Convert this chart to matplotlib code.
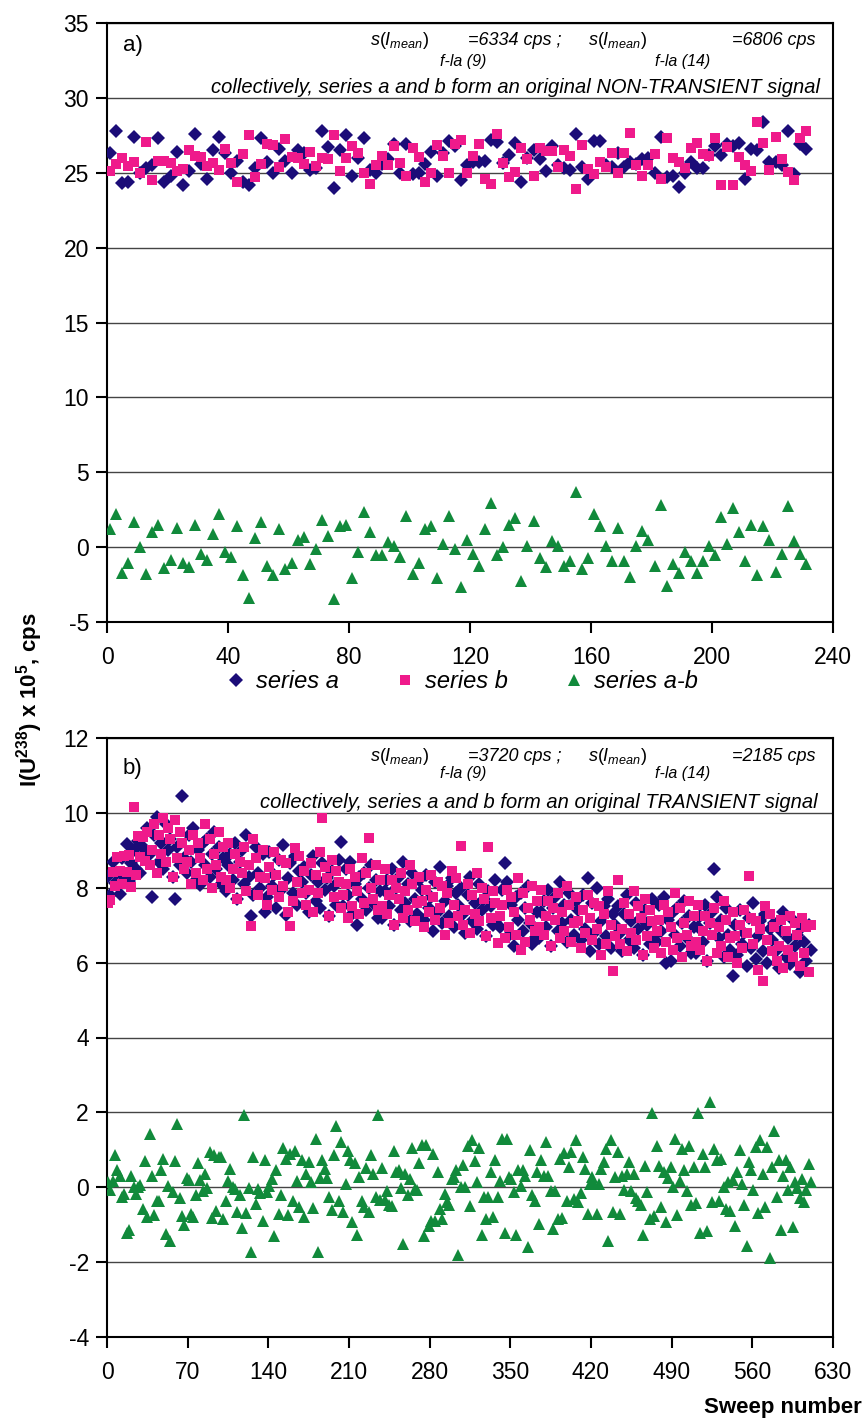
import numpy as np
import matplotlib
matplotlib.use("Agg")
import matplotlib.pyplot as plt
from matplotlib.lines import Line2D

plt.rcParams['font.family'] = ['Liberation Sans', 'DejaVu Sans']
plt.rcParams['mathtext.fontset'] = 'custom'
plt.rcParams['mathtext.rm'] = 'Liberation Sans'
plt.rcParams['mathtext.it'] = 'Liberation Sans:italic'
plt.rcParams['mathtext.bf'] = 'Liberation Sans:bold'
plt.rcParams['axes.unicode_minus'] = False

NAVY = '#1b0c78'
PINK = '#ef1a8b'
GREEN = '#118a3b'

# ---- panel a: non-transient signal (values x 10^5 cps) ----
sweep_a = np.arange(1, 232, 2)
a_series_a = [
    26.3, 27.8, 24.3, 24.4, 27.4, 25.0, 25.3, 25.5, 27.3, 24.4,
    24.8, 26.4, 24.15, 25.15, 27.6, 25.6, 24.6, 26.5, 27.4, 26.3,
    25.0, 25.8, 24.4, 24.15, 25.3, 27.3, 25.7, 25.0, 26.6, 25.8,
    25.0, 26.5, 26.3, 25.2, 25.3, 27.8, 26.7, 24.0, 26.5, 27.5,
    24.75, 26.0, 27.3, 25.2, 25.0, 25.6, 25.9, 26.9, 25.0, 26.9,
    24.9, 25.0, 25.6, 26.4, 24.8, 26.3, 27.1, 26.8, 24.5, 25.5,
    25.7, 25.7, 25.8, 27.2, 27.05, 25.65, 26.2, 27.0, 24.4, 26.0,
    26.5, 25.9, 25.1, 26.8, 25.5, 25.3, 25.2, 27.6, 25.4, 24.55,
    27.1, 27.1, 25.5, 25.4, 26.3, 25.4, 25.7, 25.6, 25.9, 26.0,
    25.0, 27.4, 24.7, 24.8, 24.05, 25.0, 25.7, 25.3, 25.3, 26.2,
    26.8, 26.2, 26.9, 26.8, 27.0, 24.6, 26.6, 26.5, 28.4, 25.7,
    25.7, 25.5, 27.8, 24.9, 26.9, 26.6]
a_series_b = [
    25.1, 25.6, 26.0, 25.47, 25.7, 25.0, 27.07, 24.5, 25.8, 25.8,
    25.65, 25.12, 25.22, 26.51, 26.12, 26.07, 25.45, 25.63, 25.2, 26.61,
    25.63, 24.41, 26.28, 27.55, 24.72, 25.6, 26.95, 26.86, 25.4, 27.28,
    26.07, 26.01, 25.61, 26.36, 25.43, 25.99, 25.94, 27.49, 25.11, 26.0,
    26.81, 26.31, 24.97, 24.22, 25.54, 26.14, 25.54, 26.81, 25.65, 24.8,
    26.67, 26.07, 24.4, 25.01, 26.86, 26.12, 25.0, 26.93, 27.16, 25.01,
    26.13, 26.95, 24.6, 24.27, 27.59, 25.65, 24.7, 25.08, 26.68, 25.91,
    24.78, 26.62, 26.44, 26.42, 25.41, 26.55, 26.14, 23.93, 26.88, 25.27,
    24.9, 25.71, 25.41, 26.34, 25.0, 26.34, 27.67, 25.51, 24.8, 25.51,
    26.25, 24.58, 27.3, 25.96, 25.75, 25.31, 26.64, 27.0, 26.24, 26.11,
    27.34, 24.2, 26.72, 24.18, 26.02, 25.54, 25.1, 28.36, 27.01, 25.21,
    27.36, 25.93, 25.07, 24.52, 27.33, 27.76]
a_diff = [
    1.2, 2.2, -1.7, -1.07, 1.7, 0.0, -1.77, 1.0, 1.5, -1.4,
    -0.85, 1.28, -1.07, -1.36, 1.48, -0.47, -0.85, 0.87, 2.2, -0.31,
    -0.63, 1.39, -1.88, -3.4, 0.58, 1.7, -1.25, -1.86, 1.2, -1.48,
    -1.07, 0.49, 0.69, -1.16, -0.13, 1.81, 0.76, -3.49, 1.39, 1.5,
    -2.06, -0.31, 2.33, 0.98, -0.54, -0.54, 0.36, 0.09, -0.65, 2.1,
    -1.77, -1.07, 1.2, 1.39, -2.06, 0.18, 2.1, -0.13, -2.66, 0.49,
    -0.43, -1.25, 1.2, 2.93, -0.54, 0.0, 1.5, 1.92, -2.28, 0.09,
    1.72, -0.72, -1.34, 0.38, 0.09, -1.25, -0.94, 3.67, -1.48, -0.72,
    2.2, 1.39, 0.09, -0.94, 1.3, -0.94, -1.97, 0.09, 1.1, 0.49,
    -1.25, 2.82, -2.6, -1.16, -1.7, -0.31, -0.94, -1.7, -0.94, 0.09,
    -0.54, 2.0, 0.18, 2.62, 0.98, -0.94, 1.5, -1.86, 1.39, 0.49,
    -1.66, -0.43, 2.73, 0.38, -0.43, -1.16]

# ---- panel b: transient signal ----
sweep_b = np.arange(1, 612, 2)
b_series_a = [
    8.31, 7.81, 8.70, 8.13, 8.39, 7.82, 8.79, 8.28, 9.18, 8.18, 8.66, 9.0, 8.49, 9.25, 8.39, 9.08, 8.93,
    9.6, 8.9, 7.76, 9.4, 9.9, 8.7, 9.2, 8.5, 9.7, 9.0, 9.3, 8.3, 7.69, 9.1, 8.6, 10.45, 8.8,
    8.4, 9.4, 8.7, 9.6, 8.2, 9.0, 8.07, 9.2, 8.6, 9.3, 8.3, 8.9, 9.5, 8.5, 9.1, 8.1, 8.8,
    7.9, 8.6, 8.9, 8.2, 9.2, 7.7, 8.7, 9.0, 8.1, 9.4, 8.3, 7.25, 7.8, 9.1, 8.4, 8.0, 8.9,
    7.36, 7.75, 8.95, 8.05, 8.35, 7.45, 8.75, 7.95, 9.15, 7.28, 8.25, 8.65, 7.85, 8.85, 7.55, 8.45, 8.15,
    8.55, 7.85, 7.35, 8.35, 8.85, 7.65, 8.15, 7.45, 8.65, 7.95, 8.25, 7.25, 8.45, 8.05, 7.55, 8.75, 9.23,
    7.5, 8.5, 7.8, 8.7, 7.3, 8.1, 7.0, 8.3, 7.7, 8.4, 7.4, 8.0, 8.6, 7.6, 8.2, 7.2, 7.9,
    7.2, 7.9, 8.2, 7.5, 8.5, 7.0, 8.0, 8.3, 7.4, 8.7, 7.6, 8.1, 7.1, 8.4, 7.7, 7.3, 8.2,
    7.95, 7.15, 8.35, 7.45, 7.75, 6.85, 8.15, 7.35, 8.55, 7.05, 7.65, 8.05, 7.25, 8.25, 6.95, 7.85, 7.55,
    8.0, 7.3, 6.8, 7.8, 8.3, 7.1, 7.6, 6.9, 8.1, 7.4, 7.7, 6.7, 7.9, 7.5, 7.0, 8.2, 7.2,
    6.95, 7.95, 8.65, 8.15, 6.75, 7.55, 6.45, 7.75, 7.15, 7.85, 6.85, 7.45, 8.05, 7.05, 6.5, 6.65, 7.35,
    6.65, 7.35, 7.65, 6.95, 7.95, 6.45, 7.45, 7.75, 6.85, 8.15, 7.05, 7.55, 6.55, 7.85, 7.15, 6.75, 7.65,
    7.4, 6.6, 7.8, 6.9, 8.25, 6.3, 7.6, 6.8, 8.0, 6.5, 7.1, 7.5, 6.7, 7.7, 6.4, 7.3, 7.0,
    7.5, 6.8, 6.3, 7.3, 7.8, 6.6, 7.1, 6.4, 7.6, 6.9, 7.2, 6.2, 7.4, 7.0, 6.5, 7.7, 6.7,
    6.55, 7.55, 6.85, 7.75, 6.0, 7.15, 6.05, 7.35, 6.75, 7.45, 6.45, 7.05, 7.65, 6.65, 7.25, 6.25, 6.95,
    6.25, 6.95, 7.25, 6.55, 7.55, 6.05, 7.05, 7.35, 8.49, 7.75, 6.65, 7.15, 6.15, 7.45, 6.75, 6.35, 5.63,
    7.0, 6.2, 7.4, 6.5, 6.8, 5.9, 7.2, 6.4, 7.6, 6.1, 6.7, 7.1, 6.3, 7.3, 6.0, 6.9, 6.6,
    7.05, 6.35, 5.85, 6.85, 7.35, 6.15, 6.65, 5.95, 7.15, 6.45, 6.75, 5.75, 6.95, 6.55, 6.05, 7.0, 6.35]
b_series_b = [
    7.58, 7.67, 8.42, 8.06, 8.81, 8.45, 8.09, 8.84, 8.41, 8.88, 8.03, 10.15, 8.35, 9.39, 8.81, 9.36, 8.72,
    9.5, 8.6, 9.0, 9.7, 8.4, 9.4, 8.9, 9.85, 8.7, 9.6, 9.3, 8.3, 9.8, 8.8, 9.5, 9.2, 8.5,
    8.7, 9.0, 8.1, 9.4, 8.4, 9.2, 8.8, 8.2, 9.7, 8.5, 9.3, 8.0, 8.9, 8.6, 9.5, 8.3, 9.1,
    8.2, 9.2, 8.0, 8.5, 8.9, 7.7, 8.7, 8.4, 9.1, 7.9, 8.6, 6.97, 9.3, 8.8, 7.8, 8.3, 9.0,
    8.25, 7.55, 8.55, 7.95, 8.95, 8.35, 7.75, 8.75, 8.05, 8.65, 7.35, 6.97, 7.65, 9.05, 8.15, 8.85, 7.85,
    8.45, 7.55, 7.95, 8.65, 7.35, 8.35, 7.85, 8.95, 9.86, 8.55, 8.25, 7.25, 8.75, 7.75, 8.45, 8.15, 7.45,
    7.8, 8.1, 7.2, 8.5, 7.5, 8.3, 7.9, 7.3, 8.8, 7.6, 8.4, 9.32, 8.0, 7.7, 8.6, 7.4, 8.2,
    7.5, 8.5, 7.3, 7.8, 8.2, 7.0, 8.0, 7.7, 8.4, 7.2, 7.9, 7.4, 8.6, 8.1, 7.1, 7.6, 8.3,
    7.65, 6.95, 7.95, 7.35, 8.35, 7.75, 7.15, 8.15, 7.45, 8.05, 6.75, 7.85, 7.05, 8.45, 7.55, 8.25, 7.25,
    9.12, 7.0, 7.4, 8.1, 6.8, 7.8, 7.3, 8.4, 7.1, 8.0, 7.7, 6.7, 9.08, 7.2, 7.9, 7.6, 6.52,
    7.25, 7.55, 6.65, 7.95, 6.95, 7.75, 7.35, 6.75, 8.25, 6.35, 7.85, 6.55, 7.45, 7.15, 8.05, 6.85, 7.65,
    6.95, 7.95, 6.75, 7.25, 7.65, 6.45, 7.45, 7.15, 7.85, 6.65, 7.35, 6.85, 8.05, 7.55, 6.55, 7.05, 7.75,
    7.1, 6.4, 7.4, 6.8, 7.8, 7.2, 6.6, 7.6, 6.9, 7.5, 6.2, 7.3, 6.5, 7.9, 7.0, 5.77, 6.7,
    8.2, 6.5, 6.9, 7.6, 6.3, 7.3, 6.8, 7.9, 6.6, 7.5, 7.2, 6.2, 7.7, 6.7, 7.4, 7.1, 6.4,
    6.85, 7.15, 6.25, 7.55, 6.55, 7.35, 6.95, 6.35, 7.85, 6.65, 7.45, 6.15, 7.05, 6.75, 7.65, 6.45, 7.25,
    6.55, 7.55, 6.35, 6.85, 7.25, 6.05, 7.05, 6.75, 7.45, 6.25, 6.95, 6.45, 7.65, 7.15, 6.15, 6.65, 7.35,
    6.7, 6.0, 7.0, 6.4, 7.4, 6.8, 8.31, 7.2, 6.5, 7.1, 5.8, 6.9, 5.5, 7.5, 6.6, 7.3, 6.3,
    6.95, 6.05, 6.45, 7.15, 5.85, 6.85, 6.35, 7.25, 6.15, 7.05, 6.75, 5.9, 7.2, 6.25, 6.95, 5.74, 7.0]
b_diff = [
    0.15, -0.07, 0.18, 0.85, 0.45, 0.31, -0.25, -0.18, -1.23, -1.15, 0.3,
    0.02, -0.18, 0.02, 0.07, -0.58, 0.69, -0.8, 1.43, 0.29, -0.74,
    -0.38, -0.38, 0.47, 0.76, -1.25, 0.04, -1.43, -0.13, 0.69, 1.7, -0.3,
    -0.78, -1.0, 0.25, 0.2, -0.72, -0.79, -0.22, 0.64, 0.2, -0.11, 0.35,
    -0.02, 0.94, -0.82, 0.87, -0.64, 0.82, 0.8, -0.85, -0.38, 0.18, 0.5,
    0.02, -0.05, -0.65, -0.21, -1.09, 1.92, -0.7, -0.03, -1.72, 0.8, -0.45,
    -0.04, -0.16, -0.89, 0.73, -0.13, 0.04, 0.21, -1.3, 0.45, -0.72, -0.2,
    1.06, 0.76, -0.74, 0.9, -0.36, 0.97, 0.16, -0.54, 0.73, -0.79, 0.35,
    0.67, 0.13, -0.56, 1.3, -1.72, 0.25, 0.72, 0.49, 0.25, -0.25, -0.6,
    0.85, 1.63, -0.38, 1.21, -0.67, 0.1,
    0.97, 0.73, -0.94, 0.64, -1.27, 0.27, -0.36, -0.54, 0.52, -0.67,
    0.85, 0.36, -0.27, 1.92, -0.34, 0.52, -0.34, -0.09, -0.47, -0.5,
    0.97, 0.4, 0.45, -0.02, -1.52, 0.36, -0.21, 0.22, 1.05, -0.04,
    -0.07, 0.65, 1.14, -1.3, 1.14, -1.03, -0.89, 0.89, -0.89, 0.4,
    -0.58, -0.85, -0.18, -0.4, -0.47, 0.21, 0.27, 0.47, -1.81, 0.02, 0.6,
    0.02, 1.09, -0.49, 1.25, 0.69, 0.13, 1.06, -1.27, -0.27, -0.85,
    -0.27, 0.4, -0.79, 0.72, -0.27, 0.18, 1.3, -1.23, 1.3, 0.27,
    0.21, -0.13, -1.27, 0.47, 0.04, 0.45, 0.31, -1.59, 1.0, -0.22,
    -0.36, 0.4, -0.98, 0.72, 0.31, 1.21, 0.31, -0.11, -1.12, -0.11,
    -0.85, 0.76, -0.82, 0.91, -0.36, 0.54, 0.94, -0.31, 1.27, -0.4, -0.15,
    0.8, 0.49, -0.72,
    0.09, 0.27, 0.09, -0.72, 0.09, 0.49, 0.67, 1.03, -1.43, 1.25,
    -0.67, 0.27, 0.94, -0.72, 0.31, -0.07, 0.36, 0.67, -0.09, 0.36, -0.3,
    -0.38, -0.47, -1.27, 0.56, -0.13, -0.85, 1.97, -0.76, 1.09, 0.56,
    -0.54, 0.4, -0.94, 0.25, 0.55, 0.02, 1.3, -0.73, 0.18, 1.03, 0.45,
    -0.09, 1.09, -0.47, 0.54, -0.43, 1.97, -1.23, 0.89, 0.54, -1.18,
    2.28, -0.4, 1.03, 0.73, -0.38, 0.76, 0.02, -0.58, 0.13, -0.63, 0.2,
    -1.03, 0.4, 1.0, 0.09, -0.47, -1.57, 0.67, 0.45, -0.07, 1.07,
    -0.7, 1.25, 0.36, -0.54, 1.07, -1.9, 0.54, 1.5, -0.27, 0.73,
    -1.14, 0.31, 0.72, -0.07, 0.55, -1.07, 0.13, -0.02, -0.29, 0.22, -0.4,
    -0.07, 0.61, 0.13]

W, H = 864, 1420


def fx(px):
    return px / W


def fy(py):
    return 1 - py / H


MS_D, MS_S, MS_T = 6.8, 7.0, 8.6

fig = plt.figure(figsize=(W / 100, H / 100), dpi=100)
ax_a = fig.add_axes([fx(107), fy(622), fx(833) - fx(107), fy(23) - fy(622)])
ax_b = fig.add_axes([fx(107), fy(1337), fx(833) - fx(107), fy(738) - fy(1337)])


def draw_panel(ax, x, sa, sb, sd):
    ax.plot(x, sa, ls='none', marker='D', ms=MS_D, color=NAVY, mew=0, zorder=3)
    ax.plot(x, sb, ls='none', marker='s', ms=MS_S, color=PINK, mew=0, zorder=4)
    ax.plot(x, sd, ls='none', marker='^', ms=MS_T, color=GREEN, mew=0, zorder=3)
    ax.yaxis.grid(True, color='#444444', lw=1.0)
    ax.set_axisbelow(True)
    for sp in ax.spines.values():
        sp.set_linewidth(1.5)
    ax.tick_params(axis='both', direction='out', length=8, width=1.5,
                   labelsize=16.5, pad=5)
    ax.tick_params(axis='x', pad=9)


draw_panel(ax_a, sweep_a, a_series_a, a_series_b, a_diff)
ax_a.set_xlim(0, 240)
ax_a.set_ylim(-5, 35)
ax_a.set_xticks(np.arange(0, 241, 40))
ax_a.set_yticks(np.arange(-5, 36, 5))

draw_panel(ax_b, sweep_b, b_series_a, b_series_b, b_diff)
ax_b.set_xlim(0, 630)
ax_b.set_ylim(-4, 12)
ax_b.set_xticks(np.arange(0, 631, 70))
ax_b.set_yticks(np.arange(-4, 13, 2))


# panel annotations
def stats_text(y_main, y_sub, v1, v2):
    fig.text(fx(370), fy(y_main), r'$s(I_{mean})$', fontsize=13, va='baseline')
    fig.text(fx(440), fy(y_sub), 'f-la (9)', fontsize=11.5, style='italic', va='baseline')
    fig.text(fx(468), fy(y_main), '=%s cps ;' % v1, fontsize=13, style='italic', va='baseline')
    fig.text(fx(588), fy(y_main), r'$s(I_{mean})$', fontsize=13, va='baseline')
    fig.text(fx(655), fy(y_sub), 'f-la (14)', fontsize=11.5, style='italic', va='baseline')
    fig.text(fx(816), fy(y_main), '=%s cps' % v2, fontsize=13, style='italic',
             va='baseline', ha='right')


stats_text(45, 66, '6334', '6806')
stats_text(761, 778, '3720', '2185')

fig.text(fx(123), fy(51), 'a)', fontsize=16, va='baseline')
fig.text(fx(123), fy(774), 'b)', fontsize=16, va='baseline')
fig.text(fx(820), fy(93),
         'collectively, series a and b form an original NON-TRANSIENT signal',
         fontsize=14.5, style='italic', ha='right', va='baseline')
fig.text(fx(818), fy(808),
         'collectively, series a and b form an original TRANSIENT signal',
         fontsize=14.5, style='italic', ha='right', va='baseline')

# axis labels
fig.text(fx(30), fy(700), r'I(U$^{\mathbf{238}}$) x 10$^{\mathbf{5}}$, cps',
         fontsize=16, fontweight='bold', rotation=90, ha='center', va='center')
fig.text(fx(862), fy(1408), 'Sweep number', fontsize=16, fontweight='bold',
         ha='right', va='center')

# legend
handles = [
    Line2D([], [], ls='none', marker='D', ms=MS_D, color=NAVY, mew=0),
    Line2D([], [], ls='none', marker='s', ms=MS_S, color=PINK, mew=0),
    Line2D([], [], ls='none', marker='^', ms=MS_T, color=GREEN, mew=0),
]
fig.legend(handles, ['series a', 'series b', 'series a-b'], loc='center',
           bbox_to_anchor=(fx(462), fy(682)), ncol=3, frameon=False,
           prop={'size': 17, 'style': 'italic'}, handlelength=0.8,
           handletextpad=0.45, columnspacing=2.4, borderpad=0)

fig.savefig('out.png', dpi=100)
